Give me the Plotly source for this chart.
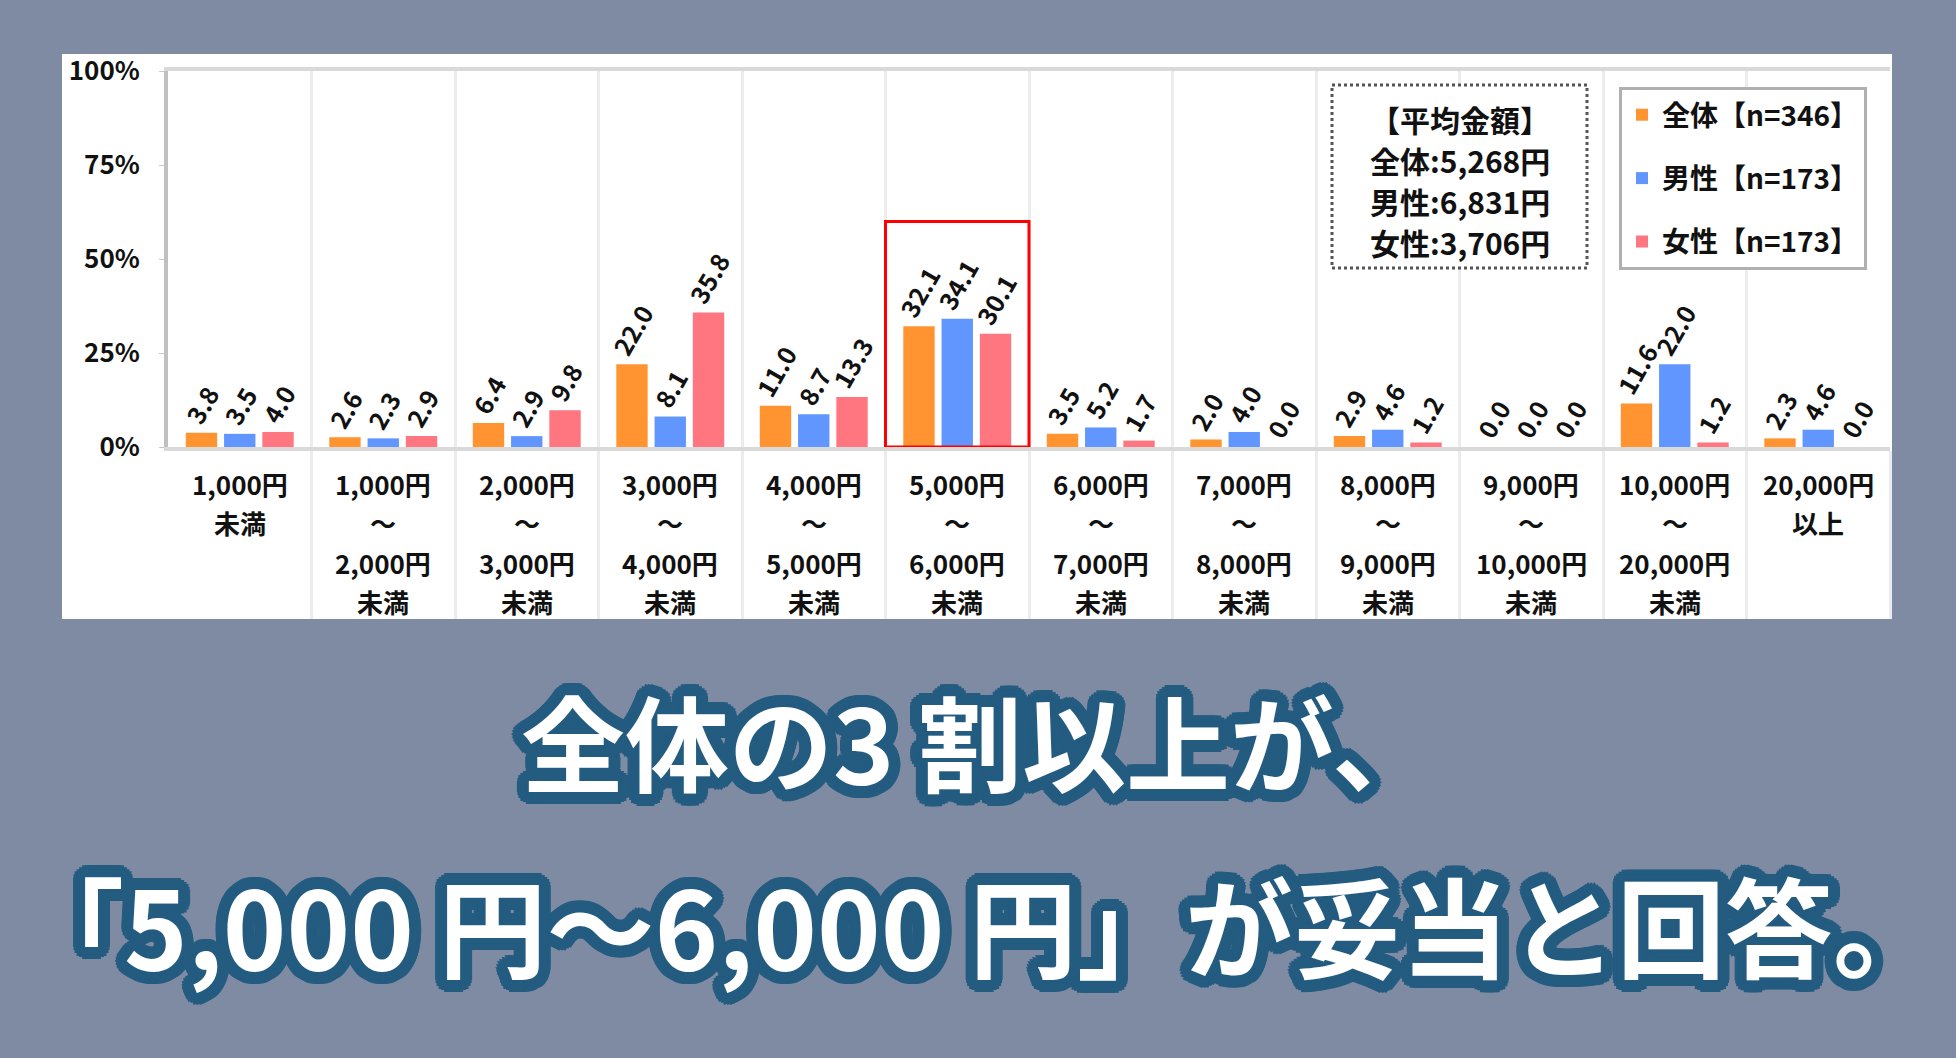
import math
import plotly.graph_objects as go

# ---- data ----
categories = [
    "1,000円\n未満",
    "1,000円\n～\n2,000円\n未満",
    "2,000円\n～\n3,000円\n未満",
    "3,000円\n～\n4,000円\n未満",
    "4,000円\n～\n5,000円\n未満",
    "5,000円\n～\n6,000円\n未満",
    "6,000円\n～\n7,000円\n未満",
    "7,000円\n～\n8,000円\n未満",
    "8,000円\n～\n9,000円\n未満",
    "9,000円\n～\n10,000円\n未満",
    "10,000円\n～\n20,000円\n未満",
    "20,000円\n以上",
]
overall = [3.8, 2.6, 6.4, 22.0, 11.0, 32.1, 3.5, 2.0, 2.9, 0.0, 11.6, 2.3]
male = [3.5, 2.3, 2.9, 8.1, 8.7, 34.1, 5.2, 4.0, 4.6, 0.0, 22.0, 4.6]
female = [4.0, 2.9, 9.8, 35.8, 13.3, 30.1, 1.7, 0.0, 1.2, 0.0, 1.2, 0.0]
series_names = ["全体【n=346】", "男性【n=173】", "女性【n=173】"]
series_colors = ["#ff9430", "#6296ff", "#ff7580"]
y_ticks = [0, 25, 50, 75, 100]
y_ticktext = ["0%", "25%", "50%", "75%", "100%"]
average_lines = ["【平均金額】", "全体:5,268円", "男性:6,831円", "女性:3,706円"]
headline = ["全体の3 割以上が、", "「5,000 円～6,000 円」が妥当と回答。"]
highlight = "5,000円\n～\n6,000円\n未満"

W, H = 1956, 1058
FONT = "Noto Sans CJK JP"
BG = "#7f8aa3"
OUTLINE = "#245c80"


def px_x(p):
    # pixel -> paper (x)
    return p / W


def px_y(p):
    # pixel -> paper (y)
    return 1 - p / H


fig = go.Figure()

# bars
for name, vals, col in zip(series_names, [overall, male, female], series_colors):
    fig.add_trace(go.Bar(
        x=categories, y=vals, name=name, legendgroup=name,
        marker=dict(color=col, line=dict(width=0)),
        text=[f"{v:.1f}" for v in vals],
        textposition="outside", textangle=-60,
        textfont=dict(family=FONT, size=25, color="#111111", weight="bold"),
        constraintext="none", cliponaxis=False,
    ))

# white panel behind the chart
fig.add_shape(type="rect", xref="paper", yref="paper", layer="below",
              x0=px_x(62), x1=px_x(1892), y0=px_y(619), y1=px_y(54),
              fillcolor="white", line=dict(width=0))

# hide the boundary tick left of the first category label
fig.add_shape(type="line", xref="paper", yref="paper",
              x0=px_x(168), x1=px_x(168), y0=px_y(619), y1=px_y(451),
              line=dict(color="white", width=5))

# red box round the highlighted category
hi = categories.index(highlight)
fig.add_shape(type="rect", xref="x", yref="y",
              x0=hi - 0.5, x1=hi + 0.5, y0=0, y1=60,
              line=dict(color="#ff0000", width=3), fillcolor="rgba(0,0,0,0)")

# dotted box for the averages
fig.add_shape(type="rect", xref="paper", yref="paper",
              x0=px_x(1332), x1=px_x(1587), y0=px_y(268), y1=px_y(85),
              line=dict(color="#555555", width=3, dash="dot"), fillcolor="white")
for i, line in enumerate(average_lines):
    fig.add_annotation(text=line, xref="paper", yref="paper",
                       x=px_x(1460), y=px_y(119 + i * 41), showarrow=False,
                       xanchor="center", yanchor="middle",
                       font=dict(family=FONT, size=30, color="#111111", weight="bold"))

# category labels, one annotation per line so the spacing matches
for cat in categories:
    for j, part in enumerate(cat.split("\n")):
        fig.add_annotation(text=part, xref="x", yref="paper",
                           x=cat, y=px_y(484 + j * 39), showarrow=False,
                           xanchor="center", yanchor="middle",
                           font=dict(family=FONT, size=26, color="#111111", weight="bold"))

# headline with a thick outline made of text-shadows
shadows = []
for r in (4, 8, 12):
    for k in range(24):
        a = 2 * math.pi * k / 24
        shadows.append(f"{r * math.cos(a):.1f}px {r * math.sin(a):.1f}px 0 {OUTLINE}")
shadow = ", ".join(shadows)
for text, yc, size in zip(headline, [739, 923], [104, 108]):
    fig.add_annotation(text=text, xref="paper", yref="paper",
                       x=0.5, y=px_y(yc), showarrow=False,
                       xanchor="center", yanchor="middle",
                       font=dict(family=FONT, size=size, color="white", weight="bold",
                                 shadow=shadow))

fig.update_layout(
    width=W, height=H,
    margin=dict(l=0, r=0, t=0, b=0),
    paper_bgcolor=BG, plot_bgcolor="white",
    barmode="group", bargap=0.2, bargroupgap=0.18,
    font=dict(family=FONT, color="#111111"),
    showlegend=True,
    legend=dict(x=px_x(1619), y=px_y(87), xanchor="left", yanchor="top",
                bgcolor="white", bordercolor="#b0b0b0", borderwidth=3,
                font=dict(family=FONT, size=28, color="#111111", weight="bold"),
                tracegroupgap=24, itemclick=False, itemdoubleclick=False),
    xaxis=dict(domain=[px_x(168), px_x(1890)], showticklabels=False, automargin=False,
               tickson="boundaries", showgrid=True, gridcolor="#ececec", gridwidth=3,
               ticks="outside", ticklen=168, tickcolor="#ececec", tickwidth=3,
               showline=True, linecolor="#d9d9d9", linewidth=4, mirror=True,
               fixedrange=True),
    yaxis=dict(domain=[px_y(447), px_y(71)], range=[0, 100], automargin=False,
               tickvals=y_ticks, ticktext=y_ticktext, showgrid=False, zeroline=False,
               ticks="outside", ticklen=5, tickcolor="#c8c8c8",
               ticklabelstandoff=14,
               tickfont=dict(family=FONT, size=26, color="#111111", weight="bold"),
               showline=True, linecolor="#c0c0c0", linewidth=4, fixedrange=True),
)

# drop the default page margin so the figure sits at the window corner
fig.write_html("out.html", config={"displayModeBar": False},
               post_script="document.body.style.margin='0';")
